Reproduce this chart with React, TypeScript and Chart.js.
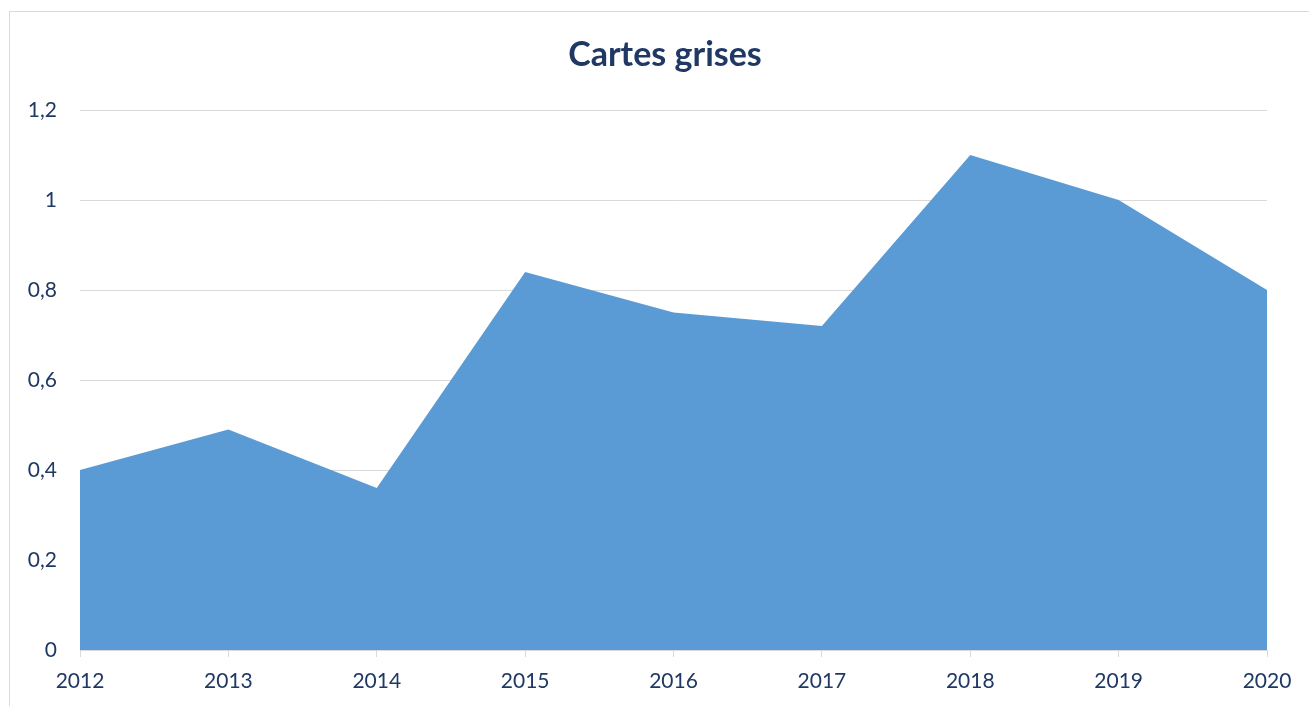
import React, { useEffect, useRef } from "react";
import { Chart, registerables } from "chart.js";

Chart.register(...registerables);

const TITLE = "Cartes grises";
const years = ["2012", "2013", "2014", "2015", "2016", "2017", "2018", "2019", "2020"];
const values = [0.4, 0.49, 0.36, 0.84, 0.75, 0.72, 1.1, 1.0, 0.8];
const yTicks = [0, 0.2, 0.4, 0.6, 0.8, 1, 1.2];

const NAVY = "#1F3864";
const GRID = "#D9D9D9";
const FILL = "#5B9BD5";
const FONT = "Lato, 'Open Sans', sans-serif";

export default function App() {
  const ref = useRef<HTMLCanvasElement | null>(null);

  useEffect(() => {
    document.documentElement.style.overflow = "hidden";
    document.body.style.overflow = "hidden";
    if (!ref.current) return;

    const titlePlugin = {
      id: "customTitle",
      afterDraw(chart: any) {
        const ctx = chart.ctx;
        ctx.save();
        ctx.font = `bold 34px ${FONT}`;
        ctx.fillStyle = NAVY;
        ctx.textAlign = "center";
        ctx.textBaseline = "middle";
        ctx.fillText(TITLE, 665, 55);
        ctx.restore();
      },
    };

    const chart = new Chart(ref.current, {
      type: "line",
      data: {
        labels: years,
        datasets: [
          {
            data: values,
            fill: "origin",
            backgroundColor: FILL,
            borderColor: FILL,
            borderWidth: 0,
            pointRadius: 0,
            tension: 0,
          },
        ],
      },
      options: {
        responsive: false,
        animation: false,
        layout: { padding: { left: 0, right: 42, top: 110, bottom: 0 } },
        plugins: {
          legend: { display: false },
          title: { display: false },
          tooltip: { enabled: false },
        },
        scales: {
          x: {
            offset: false,
            grid: {
              display: true,
              drawOnChartArea: false,
              drawTicks: true,
              tickLength: 7,
              color: GRID,
              lineWidth: 1,
            },
            border: { display: true, color: GRID, width: 1 },
            ticks: {
              color: NAVY,
              font: { family: FONT, size: 21 },
              padding: 12,
              maxRotation: 0,
            },
            afterFit(scale: any) {
              scale.height = 56;
            },
          },
          y: {
            min: 0,
            max: 1.2,
            afterBuildTicks(scale: any) {
              scale.ticks = yTicks.map((v) => ({ value: v }));
            },
            grid: {
              color: GRID,
              lineWidth: 1,
              drawTicks: false,
            },
            border: { display: false },
            ticks: {
              color: NAVY,
              font: { family: FONT, size: 21 },
              padding: 23,
              callback: (v: any) => String(Number(v).toLocaleString("fr-FR")),
            },
            afterFit(scale: any) {
              scale.width = 80;
            },
          },
        },
      },
      plugins: [titlePlugin],
    });
    return () => chart.destroy();
  }, []);

  return (
    <div style={{ position: "fixed", left: 0, top: 0, width: 1309, height: 706, background: "#fff" }}>
      <div
        style={{
          position: "absolute",
          left: 9,
          top: 11,
          width: 1320,
          height: 720,
          border: `1px solid ${GRID}`,
          boxSizing: "border-box",
        }}
      />
      <canvas
        ref={ref}
        width={1309}
        height={706}
        style={{ position: "absolute", left: 0, top: 0, width: 1309, height: 706 }}
      />
    </div>
  );
}
